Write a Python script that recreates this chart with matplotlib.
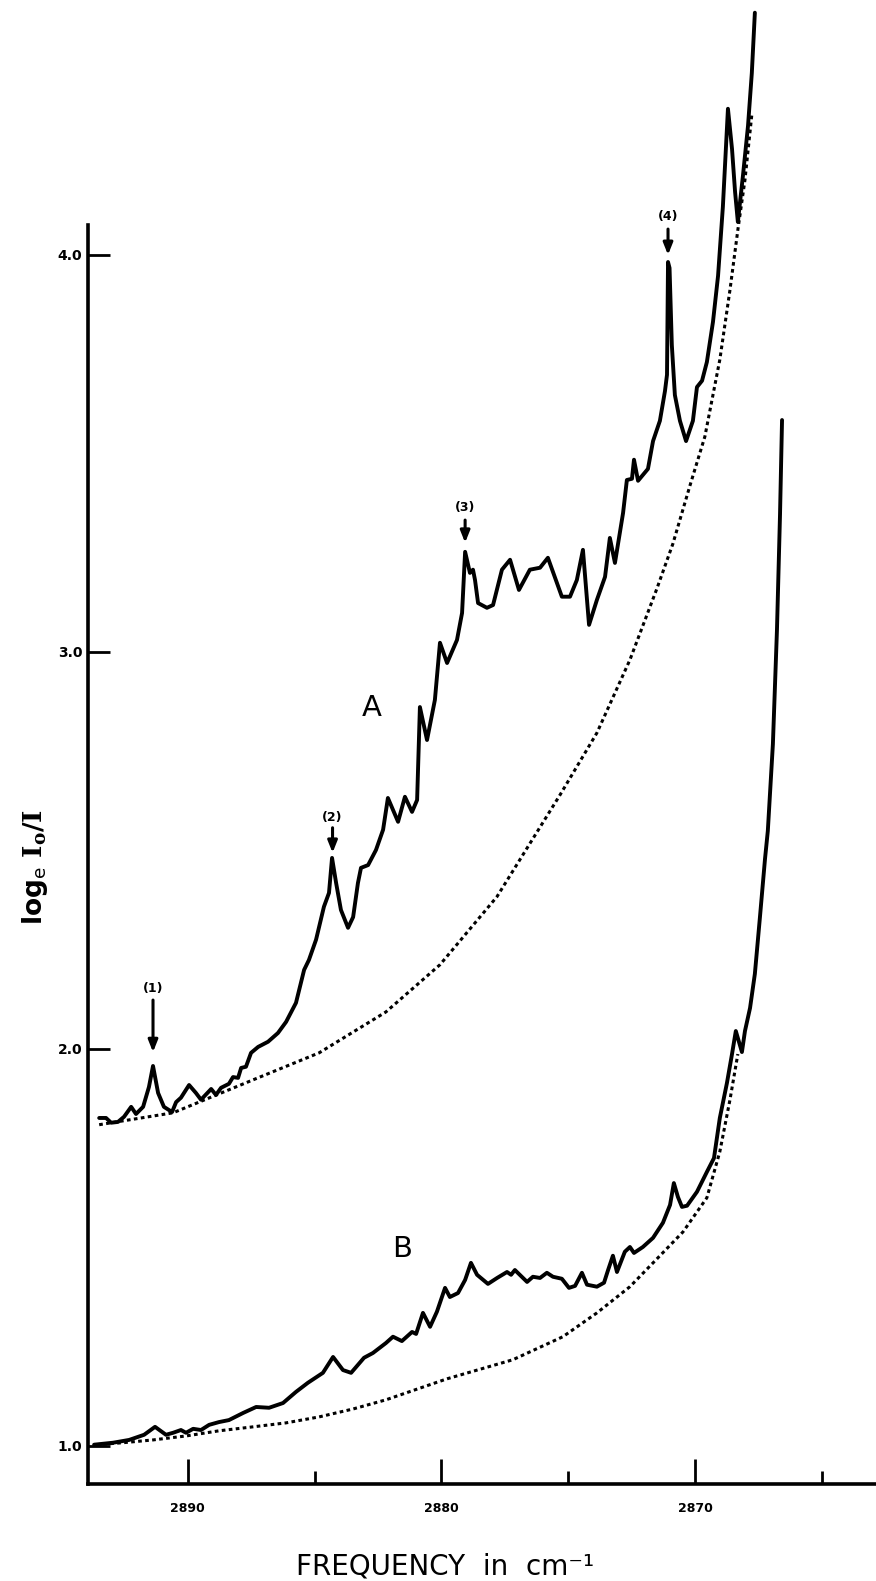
import matplotlib
matplotlib.use('Agg')
import matplotlib.pyplot as plt

plt.rcParams['font.family'] = ['DejaVu Sans']
plt.rcParams['mathtext.fontset'] = 'dejavuserif'

# ---------------- data ----------------
# Spectrum A (solid) : frequency in cm-1, log_e I0/I
a_freq = [2893.48, 2893.21, 2893.01, 2892.74, 2892.50, 2892.22, 2892.03, 2891.75,
          2891.52, 2891.36, 2891.16, 2890.93, 2890.61, 2890.45, 2890.26, 2889.94,
          2889.67, 2889.47, 2889.07, 2888.88, 2888.68, 2888.37, 2888.21, 2888.01,
          2887.89, 2887.70, 2887.50, 2887.22, 2886.83, 2886.44, 2886.12, 2885.73,
          2885.41, 2885.22, 2884.94, 2884.63, 2884.43, 2884.31, 2884.15, 2883.96,
          2883.68, 2883.48, 2883.29, 2883.17, 2882.89, 2882.58, 2882.30, 2882.11,
          2881.71, 2881.44, 2881.16, 2880.96, 2880.85, 2880.57, 2880.26, 2880.06,
          2879.78, 2879.39, 2879.19, 2879.07, 2878.88, 2878.76, 2878.68, 2878.56,
          2878.21, 2877.97, 2877.62, 2877.30, 2876.95, 2876.52, 2876.12, 2875.81,
          2875.26, 2874.94, 2874.67, 2874.43, 2874.19, 2873.88, 2873.56, 2873.37,
          2873.17, 2872.85, 2872.70, 2872.50, 2872.42, 2872.26, 2871.87, 2871.67,
          2871.40, 2871.20, 2871.12, 2871.08, 2871.02, 2870.93, 2870.81, 2870.61,
          2870.37, 2870.10, 2869.94, 2869.74, 2869.55, 2869.31, 2869.11, 2868.92,
          2868.72, 2868.56, 2868.44, 2868.33, 2868.13, 2867.93, 2867.78, 2867.66]
a_val = [1.826, 1.826, 1.814, 1.816, 1.829, 1.854, 1.836, 1.854,
         1.904, 1.957, 1.889, 1.854, 1.841, 1.866, 1.877, 1.909,
         1.889, 1.872, 1.899, 1.884, 1.902, 1.912, 1.929, 1.927,
         1.952, 1.955, 1.990, 2.005, 2.018, 2.040, 2.068, 2.116,
         2.199, 2.224, 2.275, 2.358, 2.393, 2.481, 2.418, 2.350,
         2.305, 2.332, 2.418, 2.456, 2.463, 2.501, 2.552, 2.632,
         2.572, 2.635, 2.597, 2.627, 2.861, 2.778, 2.879, 3.023,
         2.972, 3.030, 3.098, 3.252, 3.199, 3.207, 3.181, 3.123,
         3.111, 3.118, 3.207, 3.232, 3.156, 3.207, 3.212, 3.237,
         3.139, 3.139, 3.181, 3.257, 3.068, 3.131, 3.189, 3.287,
         3.224, 3.350, 3.433, 3.436, 3.484, 3.431, 3.461, 3.531,
         3.582, 3.657, 3.698, 3.982, 3.967, 3.773, 3.647, 3.582,
         3.531, 3.582, 3.667, 3.683, 3.730, 3.831, 3.947, 4.121,
         4.368, 4.267, 4.159, 4.083, 4.199, 4.325, 4.458, 4.610]

# Background of A (dotted)
a_base_freq = [2893.48, 2890.57, 2887.42, 2884.82, 2882.19, 2880.06, 2877.82,
               2875.33, 2873.88, 2872.58, 2871.52, 2870.89, 2870.22, 2869.63,
               2869.04, 2868.64, 2868.33, 2868.05, 2867.78]
a_base_val = [1.809, 1.839, 1.922, 1.990, 2.093, 2.212, 2.383,
              2.640, 2.796, 2.980, 3.159, 3.272, 3.418, 3.542,
              3.736, 3.912, 4.063, 4.189, 4.353]

# Spectrum B (solid)
b_freq = [2893.68, 2892.93, 2892.30, 2891.71, 2891.28, 2890.85, 2890.57, 2890.26,
          2890.06, 2889.78, 2889.47, 2889.15, 2888.76, 2888.37, 2887.81, 2887.30,
          2886.79, 2886.24, 2885.73, 2885.26, 2884.67, 2884.27, 2883.88, 2883.56,
          2883.05, 2882.70, 2882.19, 2881.91, 2881.56, 2881.16, 2881.00, 2880.73,
          2880.45, 2880.18, 2879.86, 2879.67, 2879.35, 2879.07, 2878.84, 2878.60,
          2878.17, 2877.81, 2877.42, 2877.26, 2877.11, 2876.63, 2876.40, 2876.12,
          2875.85, 2875.61, 2875.26, 2874.98, 2874.74, 2874.47, 2874.27, 2873.88,
          2873.60, 2873.44, 2873.25, 2873.09, 2872.78, 2872.58, 2872.42, 2872.07,
          2871.67, 2871.28, 2871.00, 2870.85, 2870.69, 2870.53, 2870.33, 2869.94,
          2869.55, 2869.27, 2869.04, 2868.76, 2868.56, 2868.41, 2868.17, 2868.05,
          2867.85, 2867.66, 2867.46, 2867.26, 2867.15, 2866.95, 2866.79, 2866.67,
          2866.59]
b_val = [1.003, 1.008, 1.015, 1.028, 1.048, 1.028, 1.033, 1.040,
         1.033, 1.043, 1.040, 1.053, 1.060, 1.065, 1.083, 1.098,
         1.096, 1.108, 1.136, 1.159, 1.184, 1.224, 1.191, 1.184,
         1.222, 1.234, 1.259, 1.275, 1.264, 1.287, 1.282, 1.335,
         1.300, 1.338, 1.398, 1.375, 1.385, 1.418, 1.461, 1.431,
         1.408, 1.423, 1.438, 1.431, 1.443, 1.413, 1.426, 1.423,
         1.436, 1.426, 1.421, 1.398, 1.403, 1.436, 1.406, 1.401,
         1.411, 1.443, 1.479, 1.438, 1.489, 1.501, 1.486, 1.501,
         1.524, 1.562, 1.607, 1.662, 1.627, 1.602, 1.605, 1.640,
         1.690, 1.725, 1.826, 1.914, 1.987, 2.045, 1.992, 2.045,
         2.103, 2.189, 2.332, 2.479, 2.549, 2.768, 3.055, 3.345,
         3.584]

# Background of B (dotted)
b_base_freq = [2893.60, 2892.54, 2891.36, 2890.06, 2888.76, 2887.42, 2886.12,
               2884.82, 2883.48, 2882.19, 2879.78, 2877.19, 2875.22, 2873.88,
               2872.58, 2871.67, 2870.49, 2869.55, 2869.04, 2868.64, 2868.33]
b_base_val = [1.003, 1.008, 1.015, 1.025, 1.038, 1.048, 1.058,
              1.073, 1.093, 1.116, 1.169, 1.217, 1.275, 1.335,
              1.401, 1.461, 1.539, 1.625, 1.741, 1.872, 1.987]

# Axis ticks
ytick_vals = [1.0, 2.0, 3.0, 4.0]
ytick_labels = ['1.0', '2.0', '3.0', '4.0']
xtick_major = [2890, 2880, 2870]
xtick_major_labels = ['2890', '2880', '2870']
xtick_minor = [2885, 2875, 2865]

# Peak annotations
peak_labels = ['(1)', '(2)', '(3)', '(4)']
peak_freq = [2891.36, 2884.29, 2879.07, 2871.08]
peak_tip = [1.992, 2.494, 3.275, 4.000]
peak_tail = [2.123, 2.557, 3.332, 4.065]
peak_text = [2.151, 2.584, 3.363, 4.096]

# Curve names
curve_names = ['A', 'B']
curve_name_x = [2882.75, 2881.55]
curve_name_y = [2.858, 1.495]

# ---------------- figure ----------------
fig = plt.figure(figsize=(8.76, 15.81), dpi=100)
ax = fig.add_axes([88 / 876, 97 / 1581, 788 / 876, 1484 / 1581])

ax.set_xlim(2893.92, 2862.89)
ax.set_ylim(0.904, 4.642)

solid_kw = dict(color='black', lw=2.8, solid_joinstyle='round', solid_capstyle='round')
dot_kw = dict(color='black', lw=2.2, linestyle=(0, (1.2, 1.1)), dash_capstyle='butt')

ax.plot(a_freq, a_val, **solid_kw)
ax.plot(a_base_freq, a_base_val, **dot_kw)
ax.plot(b_freq, b_val, **solid_kw)
ax.plot(b_base_freq, b_base_val, **dot_kw)

for lab, fx, tip, tail, ty in zip(peak_labels, peak_freq, peak_tip, peak_tail, peak_text):
    ax.annotate('', xy=(fx, tip), xytext=(fx, tail),
                arrowprops=dict(arrowstyle='-|>,head_length=0.7,head_width=0.28',
                                lw=2.2, color='black', shrinkA=0, shrinkB=0))
    ax.text(fx, ty, lab, ha='center', va='center', fontsize=9, fontweight='bold')

for name, nx, ny in zip(curve_names, curve_name_x, curve_name_y):
    ax.text(nx, ny, name, ha='center', va='center', fontsize=21)

# spines
for s in ['top', 'right']:
    ax.spines[s].set_visible(False)
ax.spines['left'].set_linewidth(2.6)
ax.spines['bottom'].set_linewidth(2.6)
ax.spines['left'].set_bounds(0.904, 4.076)

ax.set_yticks(ytick_vals)
ax.set_yticklabels(ytick_labels, fontsize=10, fontweight='bold')
ax.tick_params(axis='y', direction='in', length=16, width=2.0, pad=4)

ax.set_xticks(xtick_major)
ax.set_xticklabels(xtick_major_labels, fontsize=9, fontweight='bold')
ax.set_xticks(xtick_minor, minor=True)
ax.tick_params(axis='x', which='major', direction='in', length=18, width=2.0, pad=13)
ax.tick_params(axis='x', which='minor', direction='in', length=9.5, width=2.0)

fig.text(35 / 876, 1 - 867 / 1581, r'log$_{\mathsf{e}}$ $\mathbf{I_{o}/I}$',
         rotation=90, ha='center', va='center', fontsize=19, fontweight='bold')
fig.text(445 / 876, 1.0 / 1581, 'FREQUENCY  in  cm⁻¹', ha='center', va='bottom',
         fontsize=20)

fig.savefig('out.png', dpi=100)
